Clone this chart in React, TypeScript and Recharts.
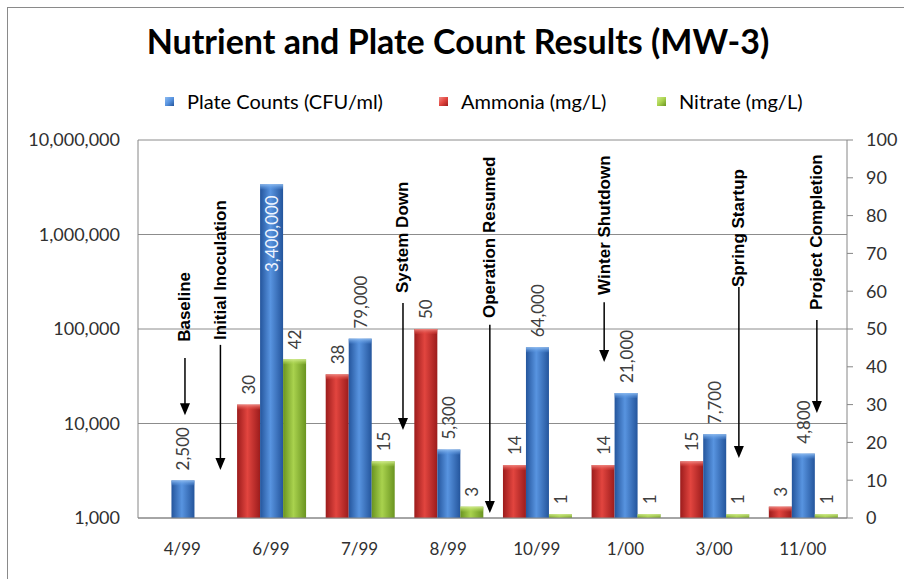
import React from 'react'
import {
  ComposedChart,
  Bar,
  XAxis,
  YAxis,
  CartesianGrid,
  LabelList,
  ReferenceLine,
  ReferenceDot,
} from 'recharts'

// values
const categories = ['4/99', '6/99', '7/99', '8/99', '10/99', '1/00', '3/00', '11/00']
const plateCounts = [2500, 3400000, 79000, 5300, 64000, 21000, 7700, 4800]
const ammonia = [null, 30, 38, 50, 14, 14, 15, 3]
const nitrate = [null, 42, 15, 3, 1, 1, 1, 1]

const leftTicks = [1000, 10000, 100000, 1000000, 10000000]
const rightTicks = [0, 10, 20, 30, 40, 50, 60, 70, 80, 90, 100]

// event notes: pos is in category units (0 = first category), heights on the right axis
const annotations = [
  { label: 'Baseline', pos: 0.03, textY: 46.6, fromY: 42.3, toY: 27.2 },
  { label: 'Initial Inoculation', pos: 0.43, textY: 47.1, fromY: 45.8, toY: 12.7 },
  { label: 'System Down', pos: 2.49, textY: 59.5, fromY: 56.9, toY: 23.3 },
  { label: 'Operation Resumed', pos: 3.47, textY: 52.9, fromY: 51.1, toY: 1.3 },
  { label: 'Winter Shutdown', pos: 4.76, textY: 59.0, fromY: 57.1, toY: 41.3 },
  { label: 'Spring Startup', pos: 6.28, textY: 61.1, fromY: 61.1, toY: 15.9 },
  { label: 'Project Completion', pos: 7.16, textY: 55.0, fromY: 52.4, toY: 27.8 },
]

const data = categories.map((cat, i) => ({
  cat,
  idx: i,
  plate: plateCounts[i],
  ammonia: ammonia[i],
  nitrate: nitrate[i],
}))

const SERIES = {
  plate: { name: 'Plate Counts (CFU/ml)', dark: '#24559c', mid: '#5894e0', light: '#8dbbf0' },
  ammonia: { name: 'Ammonia (mg/L)', dark: '#9c1c1c', mid: '#e2453f', light: '#f08a84' },
  nitrate: { name: 'Nitrate (mg/L)', dark: '#6a9420', mid: '#a9d24e', light: '#d2ec8e' },
}
const legendOrder = ['plate', 'ammonia', 'nitrate'] as const
const legendLeft = [165, 439, 657]

const FONT = 'Lato, "Open Sans", sans-serif'
const fmt = (v: number) => v.toLocaleString('en-US')

const BarShape = (key: string) => (props: any) => {
  const { x, y, width, height } = props
  if (!height || height <= 0) return null
  const cap = Math.min(5, height)
  return (
    <g>
      <rect x={x} y={y} width={width} height={height} fill={`url(#grad-${key})`} />
      <rect x={x} y={y} width={width} height={cap} fill={`url(#cap-${key})`} />
    </g>
  )
}

const barLabel = (props: any) => {
  const { x, y, width, value } = props
  if (value == null) return null
  const cx = Number(x) + Number(width) / 2
  const inside = value >= 1000000
  const ty = inside ? Number(y) + 11 : Number(y) - 10
  return (
    <text
      x={cx}
      y={ty}
      transform={`rotate(-90 ${cx} ${ty})`}
      textAnchor={inside ? 'end' : 'start'}
      dominantBaseline="central"
      fontFamily={FONT}
      fontSize={17}
      fill={inside ? '#eef4ff' : '#404040'}
    >
      {fmt(value)}
    </text>
  )
}

const arrowShape = (props: any) => {
  const { x1, y1, x2, y2 } = props
  const head = 12
  return (
    <g>
      <line x1={x1} y1={y1} x2={x2} y2={y2 - head + 1} stroke="#000" strokeWidth={1.5} />
      <polygon points={`${x2 - 5},${y2 - head} ${x2 + 5},${y2 - head} ${x2},${y2}`} fill="#000" />
    </g>
  )
}

const noteShape = (label: string) => (props: any) => {
  const { cx, cy } = props
  return (
    <text
      x={cx}
      y={cy}
      transform={`rotate(-90 ${cx} ${cy})`}
      textAnchor="start"
      dominantBaseline="central"
      fontFamily='"Liberation Sans", Arial, sans-serif'
      fontWeight="bold"
      fontSize={17}
      fill="#000"
    >
      {label}
    </text>
  )
}

export default function App() {
  return (
    <div style={{ position: 'relative', width: 904, height: 579, overflow: 'hidden', background: '#fff' }}>
      <style>{'body{margin:0}'}</style>
      <div
        style={{
          position: 'absolute',
          left: 7,
          top: 7,
          width: 1000,
          height: 700,
          border: '1px solid #8a8a8a',
        }}
      />
      <div
        style={{
          position: 'absolute',
          left: 0,
          width: 904,
          top: 20,
          textAlign: 'center',
          fontFamily: FONT,
          fontWeight: 700,
          fontSize: 34,
          color: '#000',
          paddingLeft: 12,
          boxSizing: 'border-box',
        }}
      >
        Nutrient and Plate Count Results (MW-3)
      </div>
      {legendOrder.map((k, i) => (
        <div
          key={k}
          style={{
            position: 'absolute',
            left: legendLeft[i],
            top: 89,
            display: 'flex',
            alignItems: 'center',
            fontFamily: FONT,
            fontSize: 20,
            color: '#000',
            whiteSpace: 'nowrap',
          }}
        >
          <span
            style={{
              display: 'inline-block',
              width: 9,
              height: 9,
              marginRight: 13,
              background: `linear-gradient(135deg, ${SERIES[k].light}, ${SERIES[k].mid} 50%, ${SERIES[k].dark})`,
            }}
          />
          <span>{SERIES[k].name}</span>
        </div>
      ))}
      <div style={{ position: 'absolute', left: 0, top: 0 }}>
        <ComposedChart
          width={904}
          height={579}
          data={data}
          margin={{ top: 140, right: 0, bottom: 31, left: 0 }}
          barCategoryGap="11.8%"
          barGap={0}
        >
          <defs>
            {Object.entries(SERIES).map(([k, s]) => (
              <React.Fragment key={k}>
                <linearGradient id={`grad-${k}`} x1="0" y1="0" x2="1" y2="0">
                  <stop offset="0%" stopColor={s.dark} />
                  <stop offset="45%" stopColor={s.mid} />
                  <stop offset="100%" stopColor={s.dark} />
                </linearGradient>
                <linearGradient id={`cap-${k}`} x1="0" y1="0" x2="0" y2="1">
                  <stop offset="0%" stopColor={s.light} stopOpacity={0.95} />
                  <stop offset="100%" stopColor={s.mid} stopOpacity={0.2} />
                </linearGradient>
              </React.Fragment>
            ))}
          </defs>
          <CartesianGrid yAxisId="left" vertical={false} stroke="#8c8c8c" />
          <XAxis
            dataKey="cat"
            axisLine={{ stroke: '#868686' }}
            tickLine={false}
            tickSize={0}
            tickMargin={25}
            height={30}
            tick={{ fontFamily: FONT, fontSize: 17, fill: '#303030' }}
          />
          <XAxis
            xAxisId="num"
            dataKey="idx"
            type="number"
            domain={[-0.5, 7.5]}
            allowDataOverflow
            hide
          />
          <YAxis
            yAxisId="left"
            orientation="left"
            scale="log"
            domain={[1000, 10000000]}
            ticks={leftTicks}
            allowDataOverflow
            tickFormatter={fmt}
            width={138}
            axisLine={{ stroke: '#868686' }}
            tickLine={false}
            tickSize={0}
            tickMargin={18}
            tick={{ fontFamily: FONT, fontSize: 18, fill: '#303030' }}
          />
          <YAxis
            yAxisId="right"
            orientation="right"
            domain={[0, 100]}
            ticks={rightTicks}
            width={57}
            axisLine={{ stroke: '#868686' }}
            tickLine={{ stroke: '#868686' }}
            tickSize={6}
            tickMargin={13}
            tick={{ fontFamily: FONT, fontSize: 18, fill: '#303030', textAnchor: 'start' }}
          />
          <Bar yAxisId="right" dataKey="ammonia" name={SERIES.ammonia.name} shape={BarShape('ammonia')} isAnimationActive={false}>
            <LabelList dataKey="ammonia" content={barLabel} />
          </Bar>
          <Bar yAxisId="left" dataKey="plate" name={SERIES.plate.name} shape={BarShape('plate')} isAnimationActive={false}>
            <LabelList dataKey="plate" content={barLabel} />
          </Bar>
          <Bar yAxisId="right" dataKey="nitrate" name={SERIES.nitrate.name} shape={BarShape('nitrate')} isAnimationActive={false}>
            <LabelList dataKey="nitrate" content={barLabel} />
          </Bar>
          {annotations.map((a) => (
            <ReferenceLine
              key={`l-${a.label}`}
              xAxisId="num"
              yAxisId="right"
              ifOverflow="visible"
              segment={[
                { x: a.pos, y: a.fromY },
                { x: a.pos, y: a.toY },
              ]}
              shape={arrowShape}
            />
          ))}
          {annotations.map((a) => (
            <ReferenceDot
              key={`t-${a.label}`}
              xAxisId="num"
              yAxisId="right"
              ifOverflow="visible"
              x={a.pos}
              y={a.textY}
              shape={noteShape(a.label)}
            />
          ))}
        </ComposedChart>
      </div>
    </div>
  )
}
